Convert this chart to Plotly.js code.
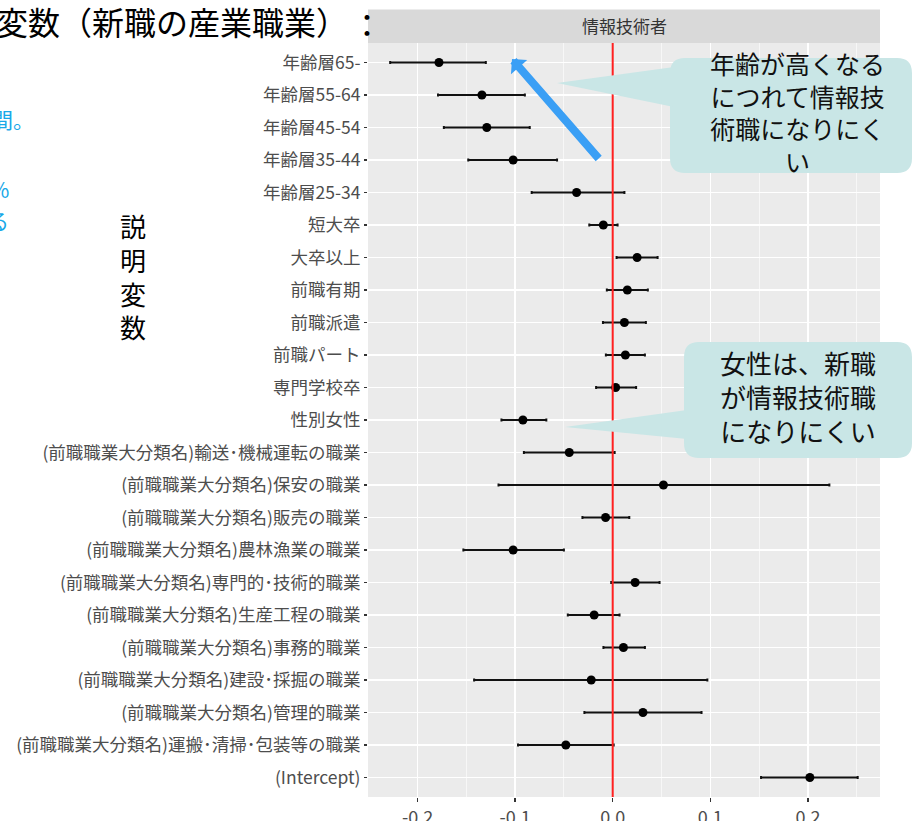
<!DOCTYPE html>
<html>
<head>
<meta charset="utf-8">
<script src="https://cdn.plot.ly/plotly-3.0.1.min.js"></script>
<style>html,body{margin:0;padding:0;background:#fff;}#chart{width:918px;height:821px;}</style>
</head>
<body>
<div id="chart"></div>
<script>
// ---- data ----
const labels = [
  '年齢層65-','年齢層55-64','年齢層45-54','年齢層35-44','年齢層25-34',
  '短大卒','大卒以上','前職有期','前職派遣','前職パート','専門学校卒','性別女性',
  '(前職職業大分類名)輸送･機械運転の職業',
  '(前職職業大分類名)保安の職業',
  '(前職職業大分類名)販売の職業',
  '(前職職業大分類名)農林漁業の職業',
  '(前職職業大分類名)専門的･技術的職業',
  '(前職職業大分類名)生産工程の職業',
  '(前職職業大分類名)事務的職業',
  '(前職職業大分類名)建設･採掘の職業',
  '(前職職業大分類名)管理的職業',
  '(前職職業大分類名)運搬･清掃･包装等の職業',
  '(Intercept)'
];
const estimate = [-0.178,-0.134,-0.129,-0.102,-0.037,-0.0096,0.025,0.015,0.012,0.013,0.003,-0.092,
                  -0.0445,0.052,-0.0073,-0.102,0.023,-0.019,0.011,-0.022,0.031,-0.048,0.202];
const lower    = [-0.228,-0.179,-0.173,-0.148,-0.083,-0.024,0.004,-0.006,-0.010,-0.007,-0.017,-0.114,
                  -0.091,-0.117,-0.031,-0.153,-0.0015,-0.046,-0.0095,-0.142,-0.029,-0.097,0.152];
const upper    = [-0.130,-0.090,-0.085,-0.057,0.012,0.005,0.046,0.036,0.034,0.033,0.024,-0.068,
                  0.002,0.222,0.017,-0.050,0.048,0.007,0.033,0.097,0.091,0.001,0.251];
const xTickVals = [-0.2,-0.1,0,0.1,0.2];
const xTickText = ['-0.2','-0.1','0.0','0.1','0.2'];
const facetLabel = '情報技術者';
const titleText = '変数（新職の産業職業）';
const titleColon = '：';
const sideLabel = ['説','明','変','数'];
const callout1 = ['年齢が高くなる','につれて情報技','術職になりにく','い'];
const callout2 = ['女性は、新職','が情報技術職','になりにくい'];
const cutTexts = ['間。','%','る'];

// ---- layout geometry (pixels) ----
const W = 918, H = 821;
const L = 368, R = 880, T = 43, B = 797;
const px = x => (x - L) / (R - L);
const py = y => (B - y) / (B - T);
const FONT = '"Noto Sans CJK JP", "Noto Sans", sans-serif';

function P(x, y) { return px(x) + ',' + py(y); }
function roundRect(x0, y0, x1, y1, r) {
  return 'M' + P(x0 + r, y0) + ' L' + P(x1 - r, y0) + ' Q' + P(x1, y0) + ' ' + P(x1, y0 + r) +
         ' L' + P(x1, y1 - r) + ' Q' + P(x1, y1) + ' ' + P(x1 - r, y1) +
         ' L' + P(x0 + r, y1) + ' Q' + P(x0, y1) + ' ' + P(x0, y1 - r) +
         ' L' + P(x0, y0 + r) + ' Q' + P(x0, y0) + ' ' + P(x0 + r, y0) + ' Z';
}
function tri(a, b, c) { return 'M' + P(a[0], a[1]) + ' L' + P(b[0], b[1]) + ' L' + P(c[0], c[1]) + ' Z'; }

const CALL = '#c9e6e6';

const trace = {
  type: 'scatter', mode: 'markers',
  x: estimate, y: labels,
  marker: { color: '#000', size: 9 },
  error_x: {
    type: 'data', symmetric: false,
    array: upper.map((u, i) => u - estimate[i]),
    arrayminus: estimate.map((e, i) => e - lower[i]),
    color: '#111', thickness: 2, width: 1.5
  },
  hoverinfo: 'x+y', showlegend: false
};

const shapes = [
  // facet strip
  { type: 'rect', xref: 'paper', yref: 'paper', x0: 0, x1: 1, y0: 1, y1: py(9.5),
    fillcolor: '#d9d9d9', line: { width: 0 }, layer: 'below' },
  // zero line
  { type: 'line', xref: 'x', yref: 'paper', x0: 0, x1: 0, y0: 0, y1: 1,
    line: { color: '#ff2020', width: 2 }, layer: 'above' },
  // callout 1
  { type: 'path', xref: 'paper', yref: 'paper', path: roundRect(670, 58, 912, 173, 15),
    fillcolor: CALL, line: { width: 0 }, layer: 'above' },
  { type: 'path', xref: 'paper', yref: 'paper', path: tri([557, 83], [674, 67], [674, 107]),
    fillcolor: CALL, line: { width: 0 }, layer: 'above' },
  // callout 2
  { type: 'path', xref: 'paper', yref: 'paper', path: roundRect(684, 342, 912, 458, 15),
    fillcolor: CALL, line: { width: 0 }, layer: 'above' },
  { type: 'path', xref: 'paper', yref: 'paper', path: tri([565, 427], [687, 410], [687, 439]),
    fillcolor: CALL, line: { width: 0 }, layer: 'above' }
];

const ann = [];
function txt(text, x, y, size, color, xanchor) {
  ann.push({ text: text, xref: 'paper', yref: 'paper', x: px(x), y: py(y),
    xanchor: xanchor || 'center', yanchor: 'middle', showarrow: false,
    font: { family: FONT, size: size, color: color } });
}
// title (cut at left edge)
txt(titleText, -6, 21, 32, '#000', 'left');
txt(titleColon, 367, 23, 32, '#000', 'center');
// facet label
txt(facetLabel, (L + R) / 2, 26, 17, '#333');
// vertical side label
txt(sideLabel.join('<br>'), 133, 276, 26, '#000');
// cut-off blue texts at left edge
txt(cutTexts[0], 36, 119, 21, '#17a8e8', 'right');
txt(cutTexts[1], 11, 189, 21, '#17a8e8', 'right');
txt(cutTexts[2], 11, 220, 21, '#17a8e8', 'right');
// callout texts
txt(callout1.join('<br>'), 797, 112.5, 25, '#111');
txt(callout2.join('<br>'), 798, 397, 26, '#111');
// blue arrow
ann.push({ text: '', xref: 'paper', yref: 'paper', x: px(512), y: py(59),
  ax: 600 - 512, ay: 160 - 59, showarrow: true, arrowhead: 1, arrowsize: 0.45,
  arrowwidth: 8, arrowcolor: '#3a9ff5' });

const layout = {
  width: W, height: H,
  margin: { l: L, r: W - R, t: T, b: H - B, pad: 0 },
  paper_bgcolor: '#fff', plot_bgcolor: '#ebebeb',
  font: { family: FONT },
  showlegend: false,
  xaxis: {
    range: [(L - 612.7) / 976, (R - 612.7) / 976],
    tickmode: 'array', tickvals: xTickVals, ticktext: xTickText,
    tickfont: { family: FONT, size: 18, color: '#4d4d4d' },
    ticks: 'outside', ticklen: 4, tickwidth: 1.2, tickcolor: '#333',
    showgrid: true, gridcolor: '#ffffff', gridwidth: 1.3,
    minor: { tickmode: 'linear', tick0: 0, dtick: 0.05, showgrid: true,
             gridcolor: '#ffffff', gridwidth: 0.6, ticks: '' },
    zeroline: false, showline: false, fixedrange: true
  },
  yaxis: {
    type: 'category', categoryorder: 'array', categoryarray: labels.slice().reverse(),
    range: [-0.6, labels.length - 0.4],
    tickfont: { family: FONT, size: 17.5, color: '#4d4d4d' },
    ticks: 'outside', ticklen: 3, tickwidth: 1.2, tickcolor: '#333',
    showgrid: true, gridcolor: '#ffffff', gridwidth: 1.5,
    zeroline: false, showline: false, fixedrange: true
  },
  shapes: shapes,
  annotations: ann
};

Plotly.newPlot('chart', [trace], layout, { displayModeBar: false, staticPlot: true });
</script>
</body>
</html>
